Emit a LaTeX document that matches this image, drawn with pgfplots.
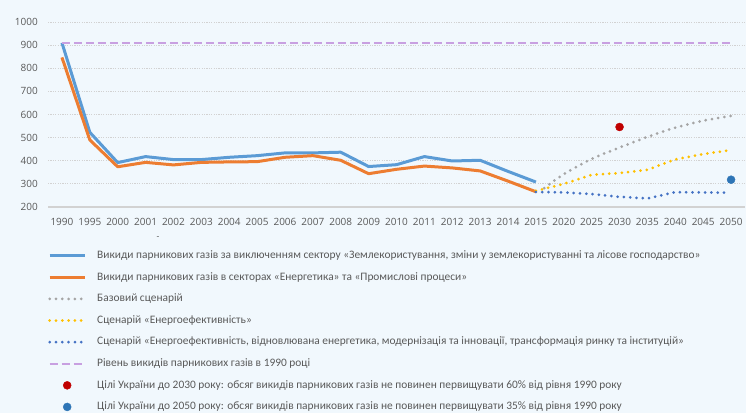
\documentclass[border=0pt]{standalone}
\usepackage{pgfplots}
\pgfplotsset{compat=1.18}
\usepackage{fontspec}
\setmainfont{Open Sans}
\newfontfamily\legfont{Carlito}
\definecolor{bg}{RGB}{241,248,253}
\definecolor{cblue}{RGB}{91,155,213}
\definecolor{corange}{RGB}{237,125,49}
\definecolor{cgray}{RGB}{165,165,165}
\definecolor{cyellow}{RGB}{255,192,0}
\definecolor{cdblue}{RGB}{68,114,196}
\definecolor{cpurple}{RGB}{200,160,225}
\definecolor{cred}{RGB}{192,0,0}
\definecolor{cdot}{RGB}{46,117,182}
\definecolor{txt}{RGB}{89,89,89}
\definecolor{gridc}{RGB}{210,210,210}
\pgfplotsset{dotlegend/.style={legend image code/.code={\draw[##1] plot coordinates {(17.5pt,0pt)};}}}
\begin{document}
\begin{tikzpicture}[x=1pt,y=1pt]
\fill[bg] (0,0) rectangle (746,413);
\node[text=txt,font=\legfont\fontsize{9}{10}\selectfont] at (158,175) {-};
\begin{axis}[
  at={(48pt,206pt)}, anchor=south west,
  scale only axis, width=697pt, height=185pt,
  xmin=-0.5, xmax=24.5, ymin=200, ymax=1000,
  clip=false,
  axis line style={draw=none},
  major tick length=0pt,
  xtick={0,...,24},
  xticklabels={1990,1995,2000,2001,2002,2003,2004,2005,2006,2007,2008,2009,2010,2011,2012,2013,2014,2015,2020,2025,2030,2035,2040,2045,2050},
  ytick={200,300,...,1000},
  /pgf/number format/assume math mode=true,
  /pgf/number format/1000 sep={},
  ticklabel style={font=\fontsize{10}{12}\selectfont, text=txt},
  xticklabel style={inner sep=0pt, anchor=north, yshift=-11pt},
  yticklabel style={inner sep=0pt, anchor=east, xshift=-10pt},
  ymajorgrids,
  major grid style={draw=gridc, line width=0.8pt, dash pattern=on 1.2pt off 1.2pt},
  extra y ticks={200}, extra y tick labels={},
  extra y tick style={grid=major, major grid style={solid, draw=gridc, line width=1.3pt}},
  legend cell align=left,
  legend style={at={(0,-0.234)}, anchor=north west, draw=none, fill=none,
    inner sep=0pt, row sep=11.1pt,
    nodes={inner sep=0pt, text height=8pt, text depth=2.5pt, text=txt},
    font=\legfont\fontsize{11.4}{13}\selectfont,
    /tikz/every odd column/.append style={column sep=11pt}},
  legend image code/.code={\draw[#1] (0pt,0pt) -- (35pt,0pt);},
]
\addplot[cblue, line width=3pt, line join=round] coordinates {
(0,910)(1,523)(2,392)(3,418)(4,405)(5,405)(6,415)(7,422)(8,434)(9,434)(10,437)(11,375)(12,383)(13,418)(14,399)(15,402)(16,354)(17,308)};
\addlegendentry{Викиди парникових газів за виключенням сектору «Землекористування, зміни у землекористуванні та лісове господарство»}
\addplot[corange, line width=3pt, line join=round] coordinates {
(0,847)(1,490)(2,374)(3,393)(4,382)(5,393)(6,395)(7,396)(8,415)(9,422)(10,402)(11,344)(12,363)(13,377)(14,369)(15,356)(16,312)(17,266)};
\addlegendentry{Викиди парникових газів в секторах «Енергетика» та «Промислові процеси»}
\addplot[cgray, line width=3pt, line cap=round, dash pattern=on 0pt off 6.3pt, smooth] coordinates {
(17.3,282)(18,342)(19,408)(20,457)(21,503)(22,543)(23,573)(24,594)};
\addlegendentry{Базовий сценарій}
\addplot[cyellow, line width=3pt, line cap=round, dash pattern=on 0pt off 6.3pt] coordinates {
(17,270)(18,300)(19,339)(20,347)(21,361)(22,406)(23,429)(24,446)};
\addlegendentry{Сценарій «Енергоефективність»}
\addplot[cdblue, line width=3pt, line cap=round, dash pattern=on 0pt off 6.3pt] coordinates {
(17,265)(18,263)(19,256)(20,244)(21,237)(22,264)(23,263)(23.8,262)};
\addlegendentry{Сценарій «Енергоефективність, відновлювана енергетика, модернізація та інновації, трансформація ринку та інституцій»}
\addplot[cpurple, line width=2pt, dash pattern=on 8pt off 4pt] coordinates {(0,910)(24,910)};
\addlegendentry{Рівень викидів парникових газів в 1990 році}
\addplot[only marks, mark=*, mark size=4pt, color=cred, dotlegend] coordinates {(20,546)};
\addlegendentry{Цілі України до 2030 року: обсяг викидів парникових газів не повинен первищувати 60\% від рівня 1990 року}
\addplot[only marks, mark=*, mark size=4pt, color=cdot, dotlegend] coordinates {(24,318)};
\addlegendentry{Цілі України до 2050 року: обсяг викидів парникових газів не повинен первищувати 35\% від рівня 1990 року}
\end{axis}
\end{tikzpicture}
\end{document}
